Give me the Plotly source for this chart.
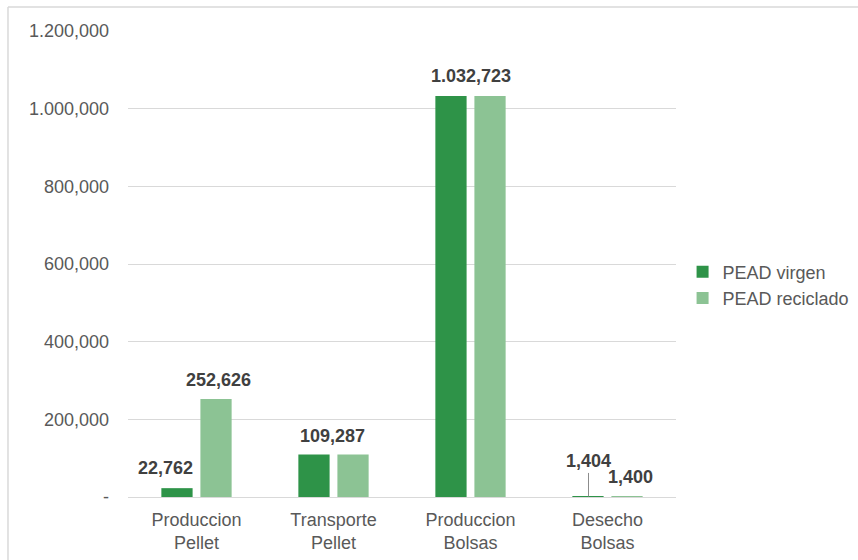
import plotly.graph_objects as go

# Data
categories = ["Produccion<br>Pellet", "Transporte<br>Pellet", "Produccion<br>Bolsas", "Desecho<br>Bolsas"]
pead_virgen = [22762, 109287, 1032723, 1404]
pead_reciclado = [252626, 109287, 1032723, 1400]
y_ticks = [0, 200000, 400000, 600000, 800000, 1000000, 1200000]

DARK = "#2e9348"
LIGHT = "#8cc394"
FONT = "Liberation Sans, Arial, sans-serif"


def fmt(v):
    """Thousands with commas; millions separated by a dot; zero as a dash."""
    if v == 0:
        return "-"
    s = f"{v:,}"
    if v >= 1_000_000:
        s = s.replace(",", ".", 1)
    return s


fig = go.Figure()
fig.add_trace(go.Bar(name="PEAD virgen", x=categories, y=pead_virgen, legendgroup="v",
                     marker=dict(color=DARK, line=dict(width=0))))
fig.add_trace(go.Bar(name="PEAD reciclado", x=categories, y=pead_reciclado, legendgroup="r",
                     marker=dict(color=LIGHT, line=dict(width=0))))

# Data labels (value -> text), placed above the bars
label_font = dict(family=FONT, size=18, color="#404040")
labels = [
    # (category index, value, x shift px, y shift px)
    (0, pead_virgen[0], -31, 20),
    (0, pead_reciclado[0], 22, 19),
    (1, pead_virgen[1], -1, 19),
    (2, pead_virgen[2], 0, 20),
    (3, pead_virgen[3], -19, 35),
    (3, pead_reciclado[3], 23, 19),
]
for ci, val, dx, dy in labels:
    fig.add_annotation(x=categories[ci], y=val, text=f"<b>{fmt(val)}</b>", showarrow=False,
                       xshift=dx, yshift=dy, font=label_font)

# Leader line for the small "Desecho Bolsas" virgin label
fig.add_annotation(x=categories[3], y=pead_virgen[3], ax=0, ay=-25,
                   xshift=-19, showarrow=True, arrowhead=0, arrowwidth=1,
                   arrowcolor="#8c8c8c", text="")

# Outer chart frame (top and left edges)
fig.add_shape(type="line", xref="paper", yref="paper", x0=-0.219, x1=1.35,
              y0=1.0515, y1=1.0515, line=dict(color="#d9d9d9", width=1.5))
fig.add_shape(type="line", xref="paper", yref="paper", x0=-0.219, x1=-0.219,
              y0=-0.2, y1=1.0515, line=dict(color="#d9d9d9", width=1.5))

fig.update_layout(
    width=858, height=560,
    margin=dict(l=128, r=182, t=31, b=63, autoexpand=False),
    paper_bgcolor="white", plot_bgcolor="white",
    barmode="group", bargap=0.43, bargroupgap=0.2,
    font=dict(family=FONT, size=18, color="#595959"),
    showlegend=True,
    legend=dict(x=1.012, y=0.455, xanchor="left", yanchor="middle",
                font=dict(family=FONT, size=18, color="#595959"),
                itemwidth=30, tracegroupgap=10, traceorder="normal"),
    xaxis=dict(showgrid=False, showline=True, linecolor="#d9d9d9", linewidth=1,
               ticks="", ticklabelstandoff=6,
               tickfont=dict(family=FONT, size=18, color="#595959")),
    yaxis=dict(range=[0, 1200000], tickvals=y_ticks,
               ticktext=[fmt(v) for v in y_ticks],
               showgrid=True, gridcolor="#d9d9d9", gridwidth=1,
               zeroline=False, showline=False, ticks="",
               ticklabelstandoff=18,
               tickfont=dict(family=FONT, size=18, color="#595959")),
)

fig.write_html("out.html")
